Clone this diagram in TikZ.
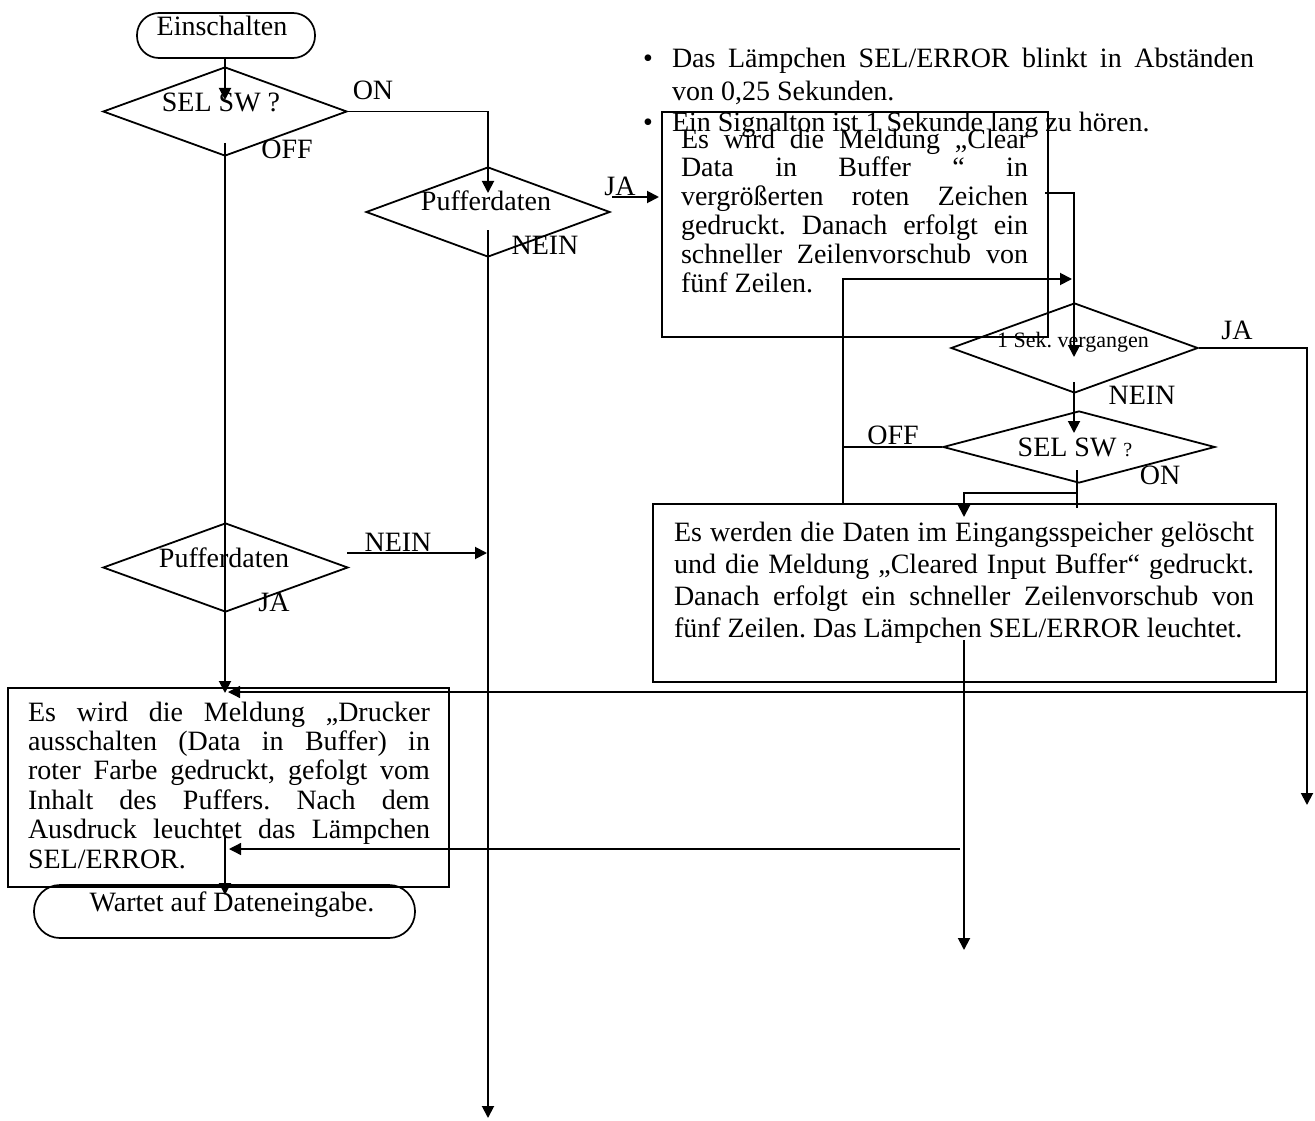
\documentclass[tikz,border=0pt]{standalone}
\usepackage{fontspec}
\setmainfont{Liberation Serif}
\usetikzlibrary{shapes.geometric,arrows.meta}
\frenchspacing
\begin{document}
\begin{tikzpicture}[x=1pt,y=-1pt,
  ln/.style={line width=1.9pt},
  arr/.style={line width=1.9pt,-{Triangle[length=12pt,width=12pt]}},
  thinarr/.style={line width=1.3pt,-{Triangle[length=12pt,width=12pt]}},
  dia/.style={diamond,draw,line width=1.8pt,inner sep=0pt},
  boxx/.style={rectangle,draw,line width=2.2pt,inner sep=0pt},
  term/.style={rectangle,draw,line width=1.7pt,inner sep=0pt},
  lbl/.style={inner sep=0pt,anchor=base,font=\fontsize{28}{32}\selectfont},
  txt/.style={inner sep=0pt,outer sep=0pt,anchor=north west,align=left}]
\fill[white] (0,0) rectangle (1315,1121);
\useasboundingbox (0,0) rectangle (1315,1121);

% shapes
\node[term,rounded corners=22pt,minimum width=178pt,minimum height=45pt] (start) at (226,35.5) {};
\node[dia,minimum width=244pt,minimum height=89pt] (d1) at (225,111.5) {};
\node[dia,minimum width=244pt,minimum height=90pt] (d2) at (488,212) {};
\node[boxx,minimum width=386pt,minimum height=225pt] (box1) at (855,224.5) {};
\node[dia,minimum width=247pt,minimum height=90pt] (d3) at (1074.5,348) {};
\node[dia,minimum width=272pt,minimum height=72pt] (d4) at (1079,447) {};
\node[boxx,minimum width=623pt,minimum height=178pt] (box2) at (964.5,593) {};
\node[dia,minimum width=245pt,minimum height=89pt] (d5) at (225.5,567.5) {};
\node[boxx,minimum width=441pt,minimum height=199pt] (box3) at (228.5,787.5) {};
\node[term,rounded corners=26pt,minimum width=381pt,minimum height=53pt] (stop) at (224.5,911.5) {};

% labels
\node[lbl] (tstart) at (222,36) {Einschalten};
\node[lbl] (td1) at (221,112) {SEL SW ?};
\node[lbl] (on1l) at (373,100) {ON};
\node[lbl] (off1l) at (287,159) {OFF};
\node[lbl] (td2) at (486,211) {Pufferdaten};
\node[lbl] (nein2l) at (545,254) {NEIN};
\node[lbl] (ja2l) at (620,195) {JA};
\node[lbl,font=\fontsize{22}{26}\selectfont] (td3) at (1073,347) {1 Sek. vergangen};
\node[lbl] (ja3l) at (1237,339) {JA};
\node[lbl] (nein3l) at (1142,404) {NEIN};
\node[lbl] (off4l) at (893,444) {OFF};
\node[lbl] (td4) at (1075,456) {SEL SW {\fontsize{20}{24}\selectfont ?}};
\node[lbl] (on4l) at (1160,484) {ON};
\node[lbl] (td5) at (224,567) {Pufferdaten};
\node[lbl] (ja5l) at (274,611) {JA};
\node[lbl] (nein5l) at (398,551) {NEIN};
\node[lbl] (tstop) at (232,911) {Wartet auf Dateneingabe.};

% bullets
\node[lbl] (bul1) at (648,68) {•};
\node[lbl] (bul2) at (648,132) {•};
\node[txt,font=\fontsize{28}{32}\selectfont] (bullets) at (672,44) {%
\rule{0pt}{24pt}\makebox[582pt][s]{Das Lämpchen SEL/ERROR blinkt in Abständen}\\
von 0,25 Sekunden.\\
Ein Signalton ist 1 Sekunde lang zu hören.};

% box texts
\node[txt,font=\fontsize{28}{28.8}\selectfont] (t1) at (681,124) {%
\rule{0pt}{24pt}\makebox[347pt][s]{Es wird die Meldung „Clear}\\
\makebox[347pt][s]{Data in Buffer “ in}\\
\makebox[347pt][s]{vergrößerten roten Zeichen}\\
\makebox[347pt][s]{gedruckt. Danach erfolgt ein}\\
\makebox[347pt][s]{schneller Zeilenvorschub von}\\
fünf Zeilen.};

\node[txt,font=\fontsize{28}{32}\selectfont] (t2) at (674,517) {%
\rule{0pt}{24pt}\makebox[580pt][s]{Es werden die Daten im Eingangsspeicher gelöscht}\\
\makebox[580pt][s]{und die Meldung „Cleared Input Buffer“ gedruckt.}\\
\makebox[580pt][s]{Danach erfolgt ein schneller Zeilenvorschub von}\\
fünf Zeilen. Das Lämpchen SEL/ERROR leuchtet.};

\node[txt,font=\fontsize{28}{29.4}\selectfont] (t3) at (28,697) {%
\rule{0pt}{24pt}\makebox[402pt][s]{Es wird die Meldung „Drucker}\\
\makebox[402pt][s]{ausschalten (Data in Buffer) in}\\
\makebox[402pt][s]{roter Farbe gedruckt, gefolgt vom}\\
\makebox[402pt][s]{Inhalt des Puffers. Nach dem}\\
\makebox[402pt][s]{Ausdruck leuchtet das Lämpchen}\\
SEL/ERROR.};

% connector coordinates
\coordinate (s1) at (225,100);
\coordinate (l1) at (225,143);
\coordinate (l2) at (225,693);
\coordinate (on1) at (488,193);
\coordinate (n2a) at (488,230);
\coordinate (n2b) at (488,1118);
\coordinate (ja1) at (612,197);
\coordinate (ja2) at (659,197);
\coordinate (b1a) at (1045,193);
\coordinate (b1b) at (1074,357);
\coordinate (ja3) at (1307,805);
\coordinate (h1a) at (1307,692);
\coordinate (h1b) at (228,692);
\coordinate (n3a) at (1074,382);
\coordinate (n3b) at (1074,433);
\coordinate (offc) at (843,279);
\coordinate (offd) at (843,504);
\coordinate (loop) at (1072,279);
\coordinate (on4a) at (1077,470);
\coordinate (on4b) at (1077,508);
\coordinate (on4c) at (1077,493);
\coordinate (on4d) at (964,517);
\coordinate (b2a) at (964,640);
\coordinate (b2b) at (964,950);
\coordinate (h2a) at (960,849);
\coordinate (h2b) at (229,849);
\coordinate (b3a) at (225,837);
\coordinate (b3b) at (225,895);
\coordinate (n5a) at (347,553);
\coordinate (n5b) at (487,553);

% connectors
\draw[arr] (start.south -| s1) -- (s1);
\draw[arr] (l1) -- (l2);
\draw[arr] (d1.east) -| (on1);
\draw[arr] (n2a) -- (n2b);
\draw[arr] (ja1) -- (ja2);
\draw[arr] (b1a) -| (b1b);
\draw[arr] (d3.east) -| (ja3);
\draw[thinarr] (h1a) -- (h1b);
\draw[arr] (n3a) -- (n3b);
\draw[ln] (d4.west) -- (d4.west -| offc);
\draw[arr] (offd) |- (loop);
\draw[ln] (on4a) -- (on4b);
\draw[arr] (on4c) -| (on4d);
\draw[arr] (b2a) -- (b2b);
\draw[thinarr] (h2a) -- (h2b);
\draw[arr] (b3a) -- (b3b);
\draw[arr] (n5a) -- (n5b);
\end{tikzpicture}
\end{document}
